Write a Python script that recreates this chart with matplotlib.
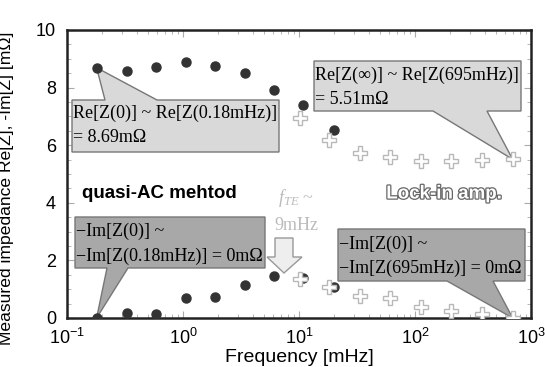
import matplotlib
matplotlib.use("Agg")
import matplotlib.pyplot as plt
import matplotlib.patheffects as pe
from matplotlib.patches import Polygon

plt.rcParams['font.family'] = ['Liberation Sans', 'DejaVu Sans']
plt.rcParams['mathtext.fontset'] = 'custom'
plt.rcParams['mathtext.rm'] = 'Liberation Sans'
plt.rcParams['mathtext.it'] = 'Liberation Serif:italic'
plt.rcParams['mathtext.default'] = 'regular'

# quasi-AC method (filled dots)
qac_freq = [0.18, 0.33, 0.58, 1.06, 1.89, 3.42, 6.1, 10.9, 20.0]
qac_re = [8.69, 8.58, 8.72, 8.89, 8.75, 8.51, 7.92, 7.39, 6.53]
qac_im = [0.0, 0.17, 0.14, 0.69, 0.73, 1.15, 1.46, 1.39, 1.08]

# Lock-in amp. (open crosses)
lia_freq = [10.3, 18.2, 33.7, 61, 112, 204, 377, 695]
lia_re = [6.94, 6.18, 5.73, 5.59, 5.45, 5.45, 5.49, 5.51]
lia_im = [1.35, 1.08, 0.76, 0.69, 0.38, 0.24, 0.14, 0.0]

W, H = 545, 367
fig = plt.figure(figsize=(W / 100, H / 100), dpi=100)
# axes frame in pixels: x 67..531, y 30..318
ax = fig.add_axes([67 / W, 1 - 318 / H, 464 / W, 288 / H])
ax.set_xscale('log')
ax.set_xlim(0.1, 1000)
ax.set_ylim(0, 10)

dot = dict(ls='none', marker='o', ms=6.5, color='#333333', zorder=5)
cross = dict(ls='none', marker='P', ms=10, mfc='white', mec='#b8b8b8', mew=1.0, zorder=6)
ax.plot(qac_freq, qac_re, **dot)
ax.plot(qac_freq, qac_im, **dot)
ax.plot(lia_freq, lia_re, **cross)
ax.plot(lia_freq, lia_im, **cross)


def px(x, y):
    # pixel coords (from top-left) -> axes fraction
    return ((x - 67) / 464, (318 - y) / 288)


def callout(box, base, tip, lines, fc, line_y, top=True):
    x0, y0, x1, y1 = box  # pixels, y0 top, y1 bottom
    bx0, bx1 = base
    tx, ty = ax.transAxes.inverted().transform(ax.transData.transform(tip))
    if top:
        pts = [px(x0, y1), px(x0, y0), px(bx0, y0), (tx, ty), px(bx1, y0),
               px(x1, y0), px(x1, y1)]
    else:
        pts = [px(x0, y0), px(x1, y0), px(x1, y1), px(bx1, y1), (tx, ty),
               px(bx0, y1), px(x0, y1)]
    ax.add_patch(Polygon(pts, closed=True, transform=ax.transAxes, fc=fc,
                         ec='#777777', lw=1, zorder=3, clip_on=False))
    for s, ly in zip(lines, line_y):
        ax.text(*px(x0 + 1, ly), s, transform=ax.transAxes, ha='left', va='center',
                family='Liberation Serif', fontsize=13, zorder=4)


callout((72, 100, 279, 152), (105, 157), (qac_freq[0], qac_re[0]),
        ['Re[Z(0)] ~ Re[Z(0.18mHz)]', '= 8.69mΩ'], '#d9d9d9', [113, 138], top=True)
callout((314, 61, 521, 111), (433, 487), (lia_freq[-1], lia_re[-1]),
        ['Re[Z(∞)] ~ Re[Z(695mHz)]', '= 5.51mΩ'], '#d9d9d9', [75, 100], top=False)
callout((75, 217, 265, 268), (107, 128), (qac_freq[0], qac_im[0]),
        ['−Im[Z(0)] ~', '−Im[Z(0.18mHz)] = 0mΩ'], '#a8a8a8', [231, 256], top=False)
callout((338, 229, 525, 281), (447, 493), (lia_freq[-1], lia_im[-1]),
        ['−Im[Z(0)] ~', '−Im[Z(695mHz)] = 0mΩ'], '#a8a8a8', [244, 268], top=False)

# down arrow for f_TE
arrow = [px(275, 238), px(293, 238), px(293, 257), px(302, 257), px(284, 273),
         px(267, 257), px(275, 257)]
ax.add_patch(Polygon(arrow, closed=True, transform=ax.transAxes, fc='#eeeeee',
                     ec='#999999', lw=1, zorder=4))
ax.text(*px(296, 198), r'$\mathit{f}_{\mathit{TE}}$ ~', transform=ax.transAxes,
        ha='center', va='center', color='#bbbbbb', fontsize=13,
        family='Liberation Serif')
ax.text(*px(296, 226), '9mHz', transform=ax.transAxes, ha='center', va='center',
        color='#bbbbbb', fontsize=13, family='Liberation Serif')

ax.text(*px(82, 193), 'quasi-AC mehtod', transform=ax.transAxes, ha='left',
        va='center', fontsize=13.5, fontweight='bold', color='black')
t = ax.text(*px(444, 194), 'Lock-in amp.', transform=ax.transAxes, ha='center',
            va='center', fontsize=13.5, fontweight='bold', fontstyle='normal',
            color='white')
t.set_path_effects([pe.Stroke(linewidth=1.8, foreground='#666666'), pe.Normal()])

ax.set_yticks([0, 2, 4, 6, 8, 10])
ax.set_yticks([1, 3, 5, 7, 9, 0.5, 1.5, 2.5, 3.5, 4.5, 5.5, 6.5, 7.5, 8.5, 9.5], minor=True)
ax.tick_params(which='both', direction='in', top=True, right=True, color='#aaaaaa',
               labelsize=13)
ax.tick_params(axis='x', pad=7)
ax.tick_params(axis='y', pad=8)
ax.tick_params(which='major', length=5)
ax.tick_params(which='minor', length=3)
for sp in ax.spines.values():
    sp.set_linewidth(1.8)
    sp.set_color('#222222')

ax.set_xlabel('Frequency [mHz]', fontsize=14, labelpad=1)
ax.set_ylabel('Measured impedance Re[Z], -Im[Z] [mΩ]', fontsize=12.6)
ax.yaxis.set_label_coords(-0.115, 0.45)

fig.savefig('out.png', dpi=100)
